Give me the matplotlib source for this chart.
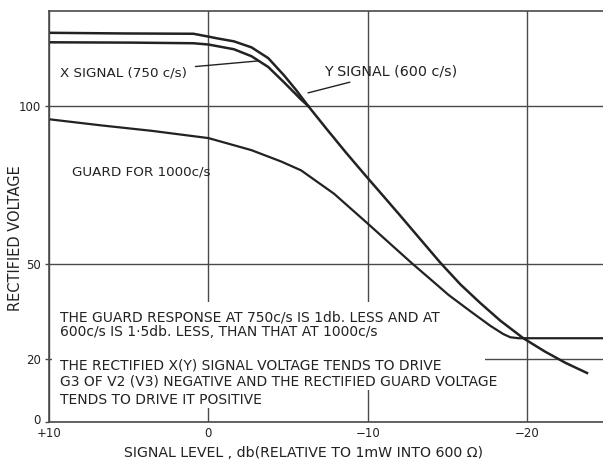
import matplotlib
matplotlib.use("Agg")
import matplotlib.pyplot as plt
from matplotlib.patches import Rectangle

# signal level, db (relative to 1mW into 600 ohm) -> rectified voltage
ysig_db = [9.9, 5.4, 0.94, 0, -0.6, -1.6, -2.7, -3.75, -4.75, -5.5, -6.25, -7.38,
           -8.63, -9.88, -11.0, -12.06, -13.31, -14.56, -15.81, -17.06, -18.31,
           -19.75, -21.1, -22.4, -23.75]
ysig_v = [123.1, 122.9, 122.8, 121.9, 121.3, 120.4, 118.5, 115.1, 109.6, 105.0, 100.0,
          92.9, 85.2, 77.8, 71.3, 65.1, 57.7, 50.3, 43.5, 37.6, 32.05,
          26.5, 22.3, 18.7, 15.5]

xsig_db = [9.9, 4.8, 0.94, 0, -1.6, -2.7, -3.75, -4.75, -5.38, -5.81, -6.25]
xsig_v = [120.1, 120.0, 119.8, 119.4, 117.9, 115.7, 112.3, 107.4, 104.2, 102.0, 100.0]

guard_db = [9.9, 6.69, 3.56, 0, -2.69, -4.56, -5.81, -7.88, -9.94, -11.44, -12.81,
            -13.94, -15.06, -16.44, -17.69, -18.5, -18.94, -19.44, -24.75]
guard_v = [95.7, 93.8, 92.1, 89.8, 86.0, 82.4, 79.6, 72.2, 63.0, 56.2, 50.0,
           45.1, 40.2, 35.0, 30.4, 27.8, 26.8, 26.5, 26.5]

xticks = [10, 0, -10, -20]
xtick_labels = ["+10", "0", "−10", "−20"]
yticks = [0, 20, 50, 100]
ytick_labels = ["", "20", "50", "100"]

plt.rcParams["font.family"] = ["DejaVu Sans"]
ink = "#222222"
grid = "#4a4a4a"

fig = plt.figure(figsize=(6.03, 4.62), dpi=100)
ax = fig.add_axes([49/603, 40/462, 554/603, 411/462])

ax.set_xlim(10, -24.75)
ax.set_ylim(0, 130)

ax.set_xticks(xticks)
ax.set_xticklabels(xtick_labels, fontsize=8.5, color=ink)
ax.set_yticks(yticks)
ax.set_yticklabels(ytick_labels, fontsize=8.5, color=ink)
ax.tick_params(axis="x", length=0, pad=3.5)
ax.tick_params(axis="y", length=3, width=1, color=grid, pad=3)
ax.grid(True, color=grid, linewidth=1.0)
ax.set_axisbelow(True)

# the origin's "0" sits up and left of the corner, clear of "+10"
fig.text(41/603, 1 - 420/462, "0", fontsize=8.5, color=ink, ha="right", va="center")

for s in ["left", "top", "bottom"]:
    ax.spines[s].set_color(grid)
    ax.spines[s].set_linewidth(1.2)
    ax.spines[s].set_zorder(5)
ax.spines["right"].set_visible(False)

# white patch behind the notes hides the grid there
ax.add_patch(Rectangle((0.006, 0.078), 0.781, 0.214, transform=ax.transAxes,
                       facecolor="white", edgecolor="none", zorder=1.5))
ax.add_patch(Rectangle((0.006, 0.034), 0.433, 0.046, transform=ax.transAxes,
                       facecolor="white", edgecolor="none", zorder=1.5))

ax.plot(ysig_db, ysig_v, color=ink, lw=1.8, zorder=3)
ax.plot(xsig_db, xsig_v, color=ink, lw=1.8, zorder=3)
ax.plot(guard_db, guard_v, color=ink, lw=1.6, zorder=3)

# labels on the curves
ax.annotate("X SIGNAL (750 c/s)", xy=(-3.1, 114.2), xytext=(9.3, 110.4),
            fontsize=9.7, color=ink, va="center",
            arrowprops=dict(arrowstyle="-", color=ink, lw=1.0, shrinkA=4, shrinkB=0))
ax.annotate("Y SIGNAL (600 c/s)", xy=(-6.25, 104.1), xytext=(-7.25, 110.8),
            fontsize=10.3, color=ink, va="center",
            arrowprops=dict(arrowstyle="-", color=ink, lw=1.0, shrinkA=2, shrinkB=0))
ax.text(8.56, 79, "GUARD FOR 1000c/s", fontsize=9.7, color=ink, va="center")

notes = [
    (32.9, "THE GUARD RESPONSE AT 750c/s IS 1db. LESS AND AT"),
    (28.5, "600c/s IS 1·5db. LESS, THAN THAT AT 1000c/s"),
    (18.0, "THE RECTIFIED X(Y) SIGNAL VOLTAGE TENDS TO DRIVE"),
    (12.7, "G3 OF V2 (V3) NEGATIVE AND THE RECTIFIED GUARD VOLTAGE"),
    (7.0, "TENDS TO DRIVE IT POSITIVE"),
]
for yv, txt in notes:
    ax.text(9.3, yv, txt, fontsize=10, color=ink, va="center", zorder=4)

fig.text(16/603, 1 - 238/462, "RECTIFIED VOLTAGE", rotation=90, fontsize=10.5,
         color=ink, ha="center", va="center")
fig.text(303/603, 1 - 453/462, "SIGNAL LEVEL , db(RELATIVE TO 1mW INTO 600 Ω)",
         fontsize=10.2, color=ink, ha="center", va="center")

fig.savefig("out.png", dpi=100, facecolor="white")
